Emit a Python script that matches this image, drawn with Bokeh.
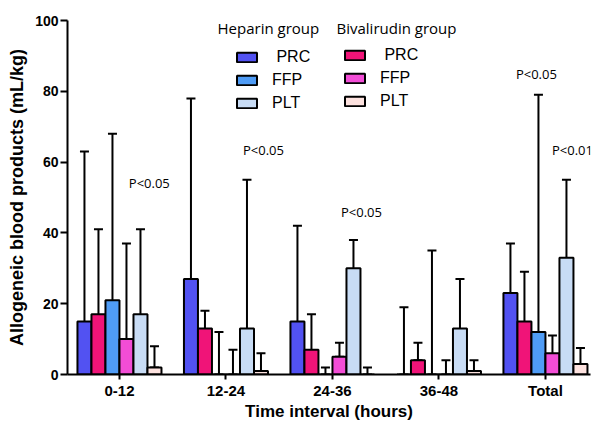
from bokeh.plotting import figure
from bokeh.models import (ColumnDataSource, FixedTicker, Whisker, TeeHead, Legend,
                          LegendItem, Label, Range1d)
from bokeh.embed import file_html
from bokeh.resources import INLINE

# ---- data ----
intervals = ["0-12", "12-24", "24-36", "36-48", "Total"]

heparin_prc = [15, 27, 15, 0, 23]
heparin_prc_lo = [8, 6, 2, 0, 17]
heparin_prc_hi = [63, 78, 42, 19, 37]

bival_prc = [17, 13, 7, 4, 15]
bival_prc_lo = [11, 5, 3, 4, 9]
bival_prc_hi = [41, 18, 17, 9, 29]

heparin_ffp = [21, 0, 0, 0, 12]
heparin_ffp_lo = [7, 0, 0, 0, 5]
heparin_ffp_hi = [68, 12, 2, 35, 79]

bival_ffp = [10, 0, 5, 0, 6]
bival_ffp_lo = [10, 0, 5, 0, 3]
bival_ffp_hi = [37, 7, 9, 4, 11]

heparin_plt = [17, 13, 30, 13, 33]
heparin_plt_lo = [1, 0, 2, 0, 2]
heparin_plt_hi = [41, 55, 38, 27, 55]

bival_plt = [2, 1, 0, 1, 3]
bival_plt_lo = [2, 1, 0, 1, 1]
bival_plt_hi = [8, 6, 2, 4, 7.5]

y_ticks = [0, 20, 40, 60, 80, 100]

series = [
    ("Heparin", "PRC", heparin_prc, heparin_prc_lo, heparin_prc_hi, "#5252F2"),
    ("Bivalirudin", "PRC", bival_prc, bival_prc_lo, bival_prc_hi, "#F01478"),
    ("Heparin", "FFP", heparin_ffp, heparin_ffp_lo, heparin_ffp_hi, "#4F9CF6"),
    ("Bivalirudin", "FFP", bival_ffp, bival_ffp_lo, bival_ffp_hi, "#F24DD6"),
    ("Heparin", "PLT", heparin_plt, heparin_plt_lo, heparin_plt_hi, "#C8DCF5"),
    ("Bivalirudin", "PLT", bival_plt, bival_plt_lo, bival_plt_hi, "#FDE2DF"),
]

p_labels = [("P<0.05", 0.28, 54.2), ("P<0.05", 1.352, 63.3), ("P<0.05", 2.272, 45.8),
            ("P<0.05", 3.915, 85.0), ("P<0.01", 4.254, 63.3)]

# ---- figure ----
p = figure(width=600, height=433, output_backend="svg", toolbar_location=None,
           x_range=Range1d(-0.488, 4.423), y_range=Range1d(0, 100),
           min_border_left=67, min_border_right=10, min_border_top=20, min_border_bottom=59)
p.background_fill_color = "white"
p.border_fill_color = "white"
p.outline_line_color = None
p.xgrid.visible = False
p.ygrid.visible = False

bar_w = 0.1315
n = len(series)
renderers = {}
for i, (grp, prod, vals, lo, hi, color) in enumerate(series):
    off = (i - (n - 1) / 2) * bar_w
    xs = [k + off for k in range(len(intervals))]
    src = ColumnDataSource(dict(x=xs, top=vals, lo=lo, hi=hi))
    r = p.vbar(x="x", top="top", bottom=0, width=bar_w, source=src,
               fill_color=color, line_color="black", line_width=2)
    renderers[(grp, prod)] = r
    w = Whisker(source=src, base="x", lower="lo", upper="hi", line_width=2,
                line_color="black",
                upper_head=TeeHead(size=9, line_width=2, line_color="black"),
                lower_head=TeeHead(size=9, line_width=2, line_color="black"))
    p.add_layout(w)

# ---- axes ----
p.xaxis.ticker = FixedTicker(ticks=list(range(len(intervals))))
p.xaxis.major_label_overrides = {i: lab for i, lab in enumerate(intervals)}
p.yaxis.ticker = FixedTicker(ticks=y_ticks)
for ax in (p.xaxis, p.yaxis):
    ax.axis_line_width = 2
    ax.axis_line_color = "black"
    ax.major_tick_line_width = 2
    ax.major_tick_line_color = "black"
    ax.major_tick_in = 0
    ax.minor_tick_line_color = None
    ax.major_label_text_font = "Liberation Sans"
    ax.major_label_text_font_style = "bold"
    ax.major_label_text_color = "black"
    ax.axis_label_text_font = "Liberation Sans"
    ax.axis_label_text_font_style = "bold"
    ax.axis_label_text_color = "black"
p.xaxis.major_tick_out = 5
p.xaxis.major_label_text_font_size = "15px"
p.xaxis.major_label_standoff = 2
p.xaxis.axis_label = "Time interval (hours)"
p.xaxis.axis_label_text_font_size = "17px"
p.xaxis.axis_label_standoff = 0
p.yaxis.major_tick_out = 7
p.yaxis.major_label_text_font_size = "14px"
p.yaxis.major_label_standoff = 2
p.yaxis.axis_label = "Allogeneic blood products (mL/kg)"
p.yaxis.axis_label_text_font_size = "18px"
p.yaxis.axis_label_standoff = 5

# ---- legends ----
def make_legend(grp, loc):
    items = [LegendItem(label=("\u00a0" + prod if prod == "PRC" else prod),
                        renderers=[renderers[(grp, prod)]]) for prod in ("PRC", "FFP", "PLT")]
    lg = Legend(items=items, location=loc, orientation="vertical",
                glyph_width=25, glyph_height=12, label_standoff=13,
                label_height=20, spacing=3, padding=0, margin=0,
                border_line_color=None, background_fill_alpha=0,
                label_text_font="Liberation Sans", label_text_font_size="16px",
                label_text_color="black")
    p.add_layout(lg, "center")

make_legend("Heparin", (167, 261))
make_legend("Bivalirudin", (275, 263))

for txt, sx in (("Heparin group", 150), ("Bivalirudin group", 269)):
    p.add_layout(Label(x=sx, y=347, x_units="screen", y_units="screen", text=txt,
                       text_font="Open Sans", text_font_size="15px",
                       text_baseline="middle", text_align="left", text_color="black"))

for txt, x, y in p_labels:
    p.add_layout(Label(x=x, y=y, text=txt, text_font="Open Sans", text_font_size="13px",
                       text_align="center", text_baseline="middle", text_color="black"))

open("out.html", "w").write(file_html(p, INLINE))
